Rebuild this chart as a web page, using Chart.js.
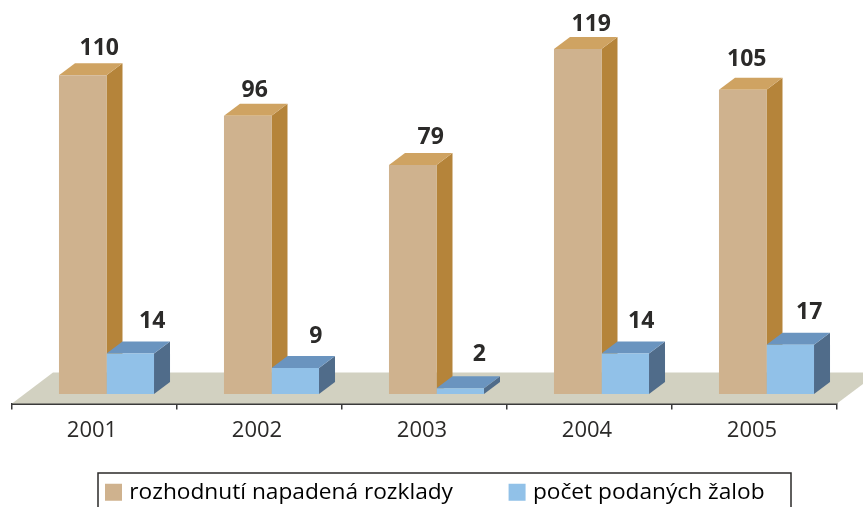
<!DOCTYPE html>
<html>
<head>
<meta charset="utf-8">
<style>html,body{margin:0;padding:0;background:#fff;overflow:hidden}canvas{display:block}</style>
<script src="https://cdn.jsdelivr.net/npm/chart.js@4/dist/chart.umd.min.js"></script>
</head>
<body>
<canvas id="c" width="863" height="507"></canvas>
<script>
const years = ['2001','2002','2003','2004','2005'];
const rozklady = [110,96,79,119,105];
const zaloby = [14,9,2,14,17];
const seriesNames = ['rozhodnutí napadená rozklady','počet podaných žalob'];
const FONT = '"Open Sans"';
const INK = '#2b2a29';
const faces = [
  {front:'#CFB28E', top:'#CFA362', side:'#B5843A'},
  {front:'#91C1E8', top:'#6A94BF', side:'#506C8A'}
];
const DX = 16, DY = 12;
const PX_PER_UNIT = 2.895, ZERO_LIFT = 9.5, PLOT_BOTTOM = 403, BAR_SHIFT = 12/165;
// small per-label nudges: [dx from front-face centre, gap above back edge]
const labelNudge = [
  [[16.5,8],[7,7],[18,9],[13.5,6],[4,12]],
  [[22,13],[20.5,13],[19,15],[16,13],[19,14]]
];

const scene = {
  id:'scene',
  afterLayout(chart){
    const l = chart.legend, pad = l.options.labels.padding;
    l.left = 109 - pad;
    l.right = 863;
    l.top = 481 - pad;
    l.bottom = 507;
  },
  beforeDatasetsDraw(chart){
    const {ctx, chartArea:a} = chart;
    ctx.save();
    ctx.fillStyle = '#D2D1C1';
    ctx.beginPath();
    ctx.moveTo(a.left, a.bottom);
    ctx.lineTo(a.left+41, a.bottom-31);
    ctx.lineTo(a.right+41, a.bottom-31);
    ctx.lineTo(a.right, a.bottom);
    ctx.closePath(); ctx.fill();
    chart.data.datasets.forEach((ds,d)=>{
      chart.getDatasetMeta(d).data.forEach(b=>{
        const L=b.x-b.width/2, R=b.x+b.width/2, T=b.y, B=b.base;
        ctx.fillStyle = faces[d].side;
        ctx.beginPath();
        ctx.moveTo(R,T); ctx.lineTo(R+DX,T-DY); ctx.lineTo(R+DX,B-DY); ctx.lineTo(R,B);
        ctx.closePath(); ctx.fill();
        ctx.fillStyle = faces[d].top;
        ctx.beginPath();
        ctx.moveTo(L,T); ctx.lineTo(L+DX,T-DY); ctx.lineTo(R+DX,T-DY); ctx.lineTo(R,T);
        ctx.closePath(); ctx.fill();
      });
    });
    ctx.restore();
  },
  afterDatasetsDraw(chart){
    const {ctx} = chart;
    ctx.save();
    ctx.font = 'bold 23px '+FONT;
    ctx.fillStyle = INK;
    ctx.textAlign = 'center';
    ctx.textBaseline = 'alphabetic';
    chart.data.datasets.forEach((ds,d)=>{
      chart.getDatasetMeta(d).data.forEach((b,i)=>{
        const n = labelNudge[d][i];
        ctx.fillText(String(ds.data[i].y), b.x+n[0], b.y-DY-n[1]);
      });
    });
    ctx.restore();
  },
  afterDraw(chart){
    const {ctx} = chart;
    ctx.save();
    ctx.strokeStyle = '#2b2a29';
    ctx.lineWidth = 1.5;
    ctx.strokeRect(98, 473, 693, 60);
    ctx.restore();
  }
};

new Chart(document.getElementById('c'),{
  type:'bar',
  data:{
    labels: years,
    datasets:[
      {label:seriesNames[0], data:rozklady.map((v,i)=>({x:i,y:v})), backgroundColor:faces[0].front, xAxisID:'xBars', yAxisID:'y', categoryPercentage:0.576, barPercentage:1},
      {label:seriesNames[1], data:zaloby.map((v,i)=>({x:i,y:v})), backgroundColor:faces[1].front, xAxisID:'xBars', yAxisID:'y', categoryPercentage:0.576, barPercentage:1}
    ]
  },
  options:{
    responsive:false, animation:false,
    layout:{padding:{left:12,right:26,top:0,bottom:54}},
    scales:{
      x:{type:'category', position:'bottom', offset:true,
         grid:{offset:true, drawOnChartArea:false, drawTicks:true, tickLength:6, color:'#3a3a3a', lineWidth:1.5},
         border:{display:true, color:'#3a3a3a', width:2},
         ticks:{font:{family:FONT,size:22}, color:INK, padding:8, maxRotation:0, autoSkip:false, labelOffset:-2.5}},
      xBars:{type:'linear', axis:'x', display:false, offset:false, grid:{offset:false}, min:-0.5-BAR_SHIFT, max:4.5-BAR_SHIFT},
      y:{type:'linear', display:false, min:-ZERO_LIFT/PX_PER_UNIT, max:(PLOT_BOTTOM-ZERO_LIFT)/PX_PER_UNIT}
    },
    plugins:{
      tooltip:{enabled:false},
      legend:{display:true, position:'bottom', align:'start', maxHeight:1,
        labels:{font:{family:FONT,size:22.7}, color:INK, padding:59.6, boxWidth:9, boxHeight:9,
          generateLabels:(chart)=>chart.data.datasets.map((ds,i)=>({
            text:ds.label, fillStyle:faces[i].front, strokeStyle:faces[i].front, lineWidth:8, datasetIndex:i, hidden:false
          }))
        }
      }
    }
  },
  plugins:[scene]
});
</script>
</body>
</html>
